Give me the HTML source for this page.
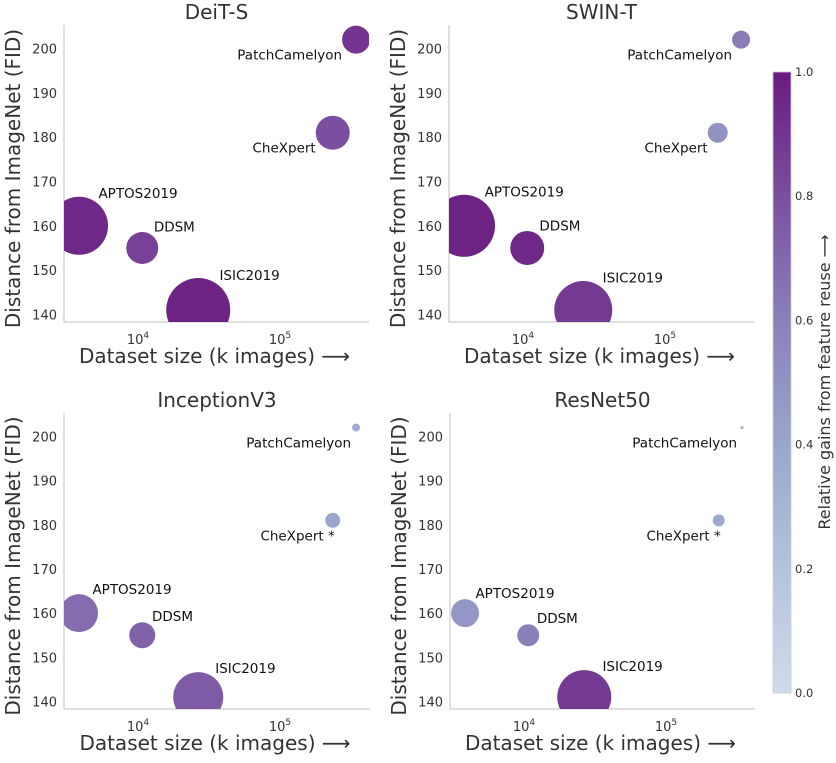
<!DOCTYPE html>
<html><head><meta charset="utf-8"><style>
html,body{margin:0;padding:0;background:#fff;}
svg{display:block;font-family:"DejaVu Sans","Liberation Sans",sans-serif;}
</style></head><body>
<svg id="chart" width="836" height="763" viewBox="0 0 836 763">
<defs>
<linearGradient id="cbg" x1="0" y1="1" x2="0" y2="0">
<stop offset="0" stop-color="#d0dbea"/><stop offset="0.2" stop-color="#b3c3dd"/>
<stop offset="0.4" stop-color="#9aa6cd"/><stop offset="0.6" stop-color="#8a80b9"/>
<stop offset="0.8" stop-color="#7b4e9f"/><stop offset="1" stop-color="#6a1b7f"/>
</linearGradient>
</defs>
<g id="panels"></g>
<g>
<rect x="773" y="72" width="18" height="621" fill="url(#cbg)" stroke="#ccc" stroke-width="0.8"/>
<g id="cbticks" font-size="11.5" fill="#333"></g>
<text x="830" y="382" font-size="16" fill="#333" text-anchor="middle" transform="rotate(-90 830 382)">Relative gains from feature reuse ⟶</text>
</g>
</svg>
<script>
const titles = ["DeiT-S","SWIN-T","InceptionV3","ResNet50"];
const datasets = ["APTOS2019","DDSM","ISIC2019","CheXpert","PatchCamelyon"];
const datasetSizes = [3662, 10200, 25300, 224000, 327000];
const fidValues = [160, 155, 141, 181, 202];
const gainsDeiT = [0.95, 0.85, 0.97, 0.80, 0.90];
const gainsSwin = [0.97, 0.95, 0.88, 0.50, 0.62];
const gainsIncep = [0.68, 0.72, 0.75, 0.40, 0.35];
const gainsRes = [0.48, 0.60, 0.88, 0.38, 0.30];
const sizesDeiT = [841, 256, 1024, 289, 196];
const sizesSwin = [961, 289, 841, 100, 81];
const sizesIncep = [361, 169, 625, 56, 16];
const sizesRes = [196, 121, 729, 36, 2.5];
const starFlags = [[0,0,0,0,0],[0,0,0,0,0],[0,0,0,1,0],[0,0,0,1,0]];
const yTicks = [140,150,160,170,180,190,200];
const xTickExp = [4,5];
const cbTicks = [0,0.2,0.4,0.6,0.8,1.0];

const gains=[gainsDeiT,gainsSwin,gainsIncep,gainsRes];
const sizes=[sizesDeiT,sizesSwin,sizesIncep,sizesRes];
const stops=[[0,[208,219,234]],[0.2,[179,195,221]],[0.4,[154,166,205]],[0.6,[138,128,185]],[0.8,[123,78,159]],[1,[106,27,127]]];
function cmap(v){for(let i=1;i<stops.length;i++){if(v<=stops[i][0]){const a=stops[i-1],b=stops[i],t=(v-a[0])/(b[0]-a[0]);return 'rgb('+a[1].map((c,k)=>Math.round(c+(b[1][k]-c)*t)).join(',')+')';}}return 'rgb(106,27,127)';}
const NS="http://www.w3.org/2000/svg";
function mk(tag,attrs,parent,txt){const e=document.createElementNS(NS,tag);for(const k in attrs)e.setAttribute(k,attrs[k]);if(txt!==undefined)e.textContent=txt;parent.appendChild(e);return e;}
const panelsG=document.getElementById('panels');
const layout=[[64,369,25,322],[449,754,25,322],[64,370,413,709],[450,755,413,709]];
const Y0=138.3,Y1=205.3;
titles.forEach((title,p)=>{
  const [L,R,T,B]=layout[p];
  const g=mk('g',{},panelsG);
  
  
  const xs=v=>L+77+(Math.log10(v)-4)*142;
  const ys=v=>B-(v-Y0)/(Y1-Y0)*(B-T);
  const cp=mk('clipPath',{id:'clip'+p},g);mk('rect',{x:L,y:T,width:R-L,height:B-T},cp);
  const t=mk('text',{x:(L+R)/2,y:T-6,'font-size':20,fill:'#333','text-anchor':'middle'},g,title);
  
  const sp=mk('path',{d:`M${L},${T}V${B}H${R}`,stroke:'#ccc','stroke-width':1.2,fill:'none'},g);
  
  yTicks.forEach(v=>{const e=mk('text',{x:L-7,y:ys(v)+5,'font-size':13,fill:'#333','text-anchor':'end'},g,String(v));
    });
  xTickExp.forEach(ex=>{const e=mk('text',{x:xs(Math.pow(10,ex))-3,y:B+22,'font-size':13,fill:'#333','text-anchor':'middle'},g);
    
    mk('tspan',{},e,'10');mk('tspan',{dy:-6,'font-size':9},e,String(ex));});
  const xl=mk('text',{x:(L+R)/2-2,y:B+41,'font-size':20,fill:'#333','text-anchor':'middle'},g,'Dataset size (k images)  ⟶');
  
  const yc=(T+B)/2+5;
  const yl=mk('text',{x:L-44,y:yc,'font-size':20,fill:'#333','text-anchor':'middle',transform:`rotate(-90 ${L-44} ${yc})`},g,'Distance from ImageNet (FID)');
  
  const bg=mk('g',{'clip-path':`url(#clip${p})`},g);
  datasets.forEach((d,i)=>{
    const cx=xs(datasetSizes[i]),cy=ys(fidValues[i]),r=Math.sqrt(sizes[p][i]);
    const c=mk('circle',{cx:cx,cy:cy,r:r,fill:cmap(gains[p][i])},bg);
    
    
    let lab=d+(starFlags[p][i]?' *':''),tx,ty,anchor;
    if(i<3){tx=cx+0.6*r+2;ty=cy-(0.85*r+8)+5;anchor='start';}
    else{tx=starFlags[p][i]?cx+2:cx-Math.max(r,5);ty=cy+20;anchor='end';}
    const lt=mk('text',{x:tx,y:ty,'font-size':13.5,fill:'#111','text-anchor':anchor},g,lab);
    
    
  });
});
const cbg=document.getElementById('cbticks');
cbTicks.forEach(v=>{const y=693-v*621;
  const e=mk('text',{x:795,y:y+4,'font-size':11.5,fill:'#333'},cbg,v.toFixed(1));
  });
</script>
</body></html>
